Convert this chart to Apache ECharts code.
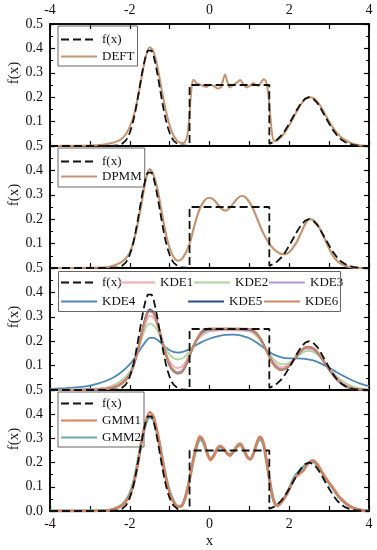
<!DOCTYPE html>
<html><head><meta charset="utf-8">
<script src="https://cdn.jsdelivr.net/npm/echarts@6/dist/echarts.min.js"></script>
<style>html,body{margin:0;padding:0;background:#fff}#c{width:377px;height:550px}</style>
</head><body><div id="c"></div><script>
// ---------- data (x, f) pairs ----------
const xTicks = [-4, -3, -2, -1, 0, 1, 2, 3, 4];
const yTicks = [0, 0.1, 0.2, 0.3, 0.4, 0.5];

const fTrue = [[-4,0],[-2.6,0],[-2.5,0],[-2.4,0.001],[-2.3,0.002],[-2.2,0.008],[-2.1,0.022],[-2.05,0.035],[-2.0,0.054],[-1.95,0.079],[-1.9,0.111],[-1.85,0.15],[-1.8,0.195],[-1.75,0.242],[-1.7,0.29],[-1.65,0.333],[-1.6,0.369],[-1.55,0.391],[-1.5,0.399],[-1.45,0.391],[-1.4,0.369],[-1.35,0.333],[-1.3,0.29],[-1.25,0.242],[-1.2,0.195],[-1.15,0.15],[-1.1,0.111],[-1.05,0.079],[-1.0,0.054],[-0.95,0.035],[-0.9,0.022],[-0.8,0.008],[-0.7,0.002],[-0.6,0.001],[-0.5,0],[-0.5,0.25],[1.5,0.25],[1.5,0.009],[1.6,0.016],[1.7,0.027],[1.8,0.043],[1.9,0.065],[2.0,0.092],[2.1,0.121],[2.2,0.151],[2.3,0.177],[2.4,0.194],[2.5,0.2],[2.6,0.194],[2.7,0.177],[2.8,0.151],[2.9,0.121],[3.0,0.092],[3.1,0.065],[3.2,0.043],[3.3,0.027],[3.4,0.016],[3.5,0.009],[3.6,0.005],[3.7,0.002],[3.8,0.001],[3.9,0],[4,0]];

const deft = [[-4,0],[-3.4,0.001],[-3,0.002],[-2.7,0.005],[-2.5,0.01],[-2.3,0.02],[-2.2,0.03],[-2.1,0.048],[-2.0,0.078],[-1.9,0.125],[-1.8,0.195],[-1.7,0.285],[-1.6,0.365],[-1.5,0.405],[-1.4,0.385],[-1.3,0.32],[-1.2,0.232],[-1.1,0.15],[-1.0,0.085],[-0.9,0.042],[-0.8,0.02],[-0.7,0.012],[-0.62,0.015],[-0.55,0.05],[-0.5,0.13],[-0.45,0.24],[-0.4,0.272],[-0.33,0.258],[-0.25,0.252],[-0.15,0.246],[-0.08,0.242],[0,0.25],[0.1,0.247],[0.2,0.236],[0.28,0.24],[0.34,0.27],[0.39,0.293],[0.45,0.262],[0.51,0.24],[0.6,0.25],[0.7,0.262],[0.77,0.27],[0.85,0.252],[0.93,0.24],[1.02,0.248],[1.1,0.258],[1.17,0.25],[1.23,0.246],[1.3,0.262],[1.36,0.274],[1.42,0.262],[1.47,0.22],[1.52,0.13],[1.57,0.05],[1.62,0.02],[1.7,0.022],[1.8,0.038],[1.9,0.058],[2.0,0.085],[2.1,0.115],[2.2,0.145],[2.3,0.172],[2.4,0.192],[2.5,0.2],[2.6,0.197],[2.7,0.183],[2.8,0.16],[2.9,0.13],[3.0,0.1],[3.1,0.074],[3.2,0.053],[3.3,0.037],[3.4,0.025],[3.5,0.016],[3.6,0.009],[3.7,0.005],[3.8,0.002],[4,0]];

const dpmm = [[-4,0],[-2.6,0.003],[-2.4,0.01],[-2.2,0.025],[-2.1,0.04],[-2.0,0.062],[-1.9,0.11],[-1.8,0.18],[-1.7,0.27],[-1.6,0.36],[-1.5,0.405],[-1.4,0.38],[-1.3,0.32],[-1.2,0.23],[-1.1,0.145],[-1.0,0.082],[-0.9,0.045],[-0.8,0.03],[-0.7,0.036],[-0.6,0.06],[-0.5,0.1],[-0.4,0.16],[-0.3,0.218],[-0.2,0.258],[-0.1,0.281],[0,0.288],[0.1,0.28],[0.2,0.262],[0.3,0.243],[0.4,0.235],[0.5,0.245],[0.6,0.265],[0.7,0.285],[0.8,0.295],[0.9,0.29],[1.0,0.27],[1.1,0.24],[1.2,0.2],[1.3,0.16],[1.4,0.127],[1.5,0.1],[1.6,0.08],[1.7,0.066],[1.8,0.058],[1.9,0.057],[2.0,0.065],[2.1,0.085],[2.2,0.11],[2.3,0.145],[2.4,0.18],[2.5,0.2],[2.6,0.197],[2.7,0.18],[2.8,0.15],[2.9,0.115],[3.0,0.08],[3.1,0.05],[3.2,0.03],[3.3,0.017],[3.4,0.009],[3.5,0.004],[3.6,0.002],[3.8,0],[4,0]];

const kde1 = [[-4,0],[-3.4,0.001],[-3,0.003],[-2.6,0.008],[-2.4,0.016],[-2.2,0.033],[-2.0,0.067],[-1.9,0.103],[-1.8,0.155],[-1.7,0.218],[-1.6,0.276],[-1.5,0.304],[-1.4,0.296],[-1.3,0.258],[-1.2,0.207],[-1.1,0.157],[-1.0,0.118],[-0.9,0.097],[-0.8,0.09],[-0.7,0.095],[-0.6,0.115],[-0.5,0.148],[-0.4,0.181],[-0.3,0.207],[-0.2,0.226],[-0.1,0.237],[0,0.242],[0.5,0.245],[1.0,0.242],[1.1,0.236],[1.2,0.222],[1.3,0.2],[1.4,0.172],[1.5,0.142],[1.6,0.117],[1.7,0.1],[1.8,0.094],[1.9,0.097],[2.0,0.107],[2.1,0.123],[2.2,0.142],[2.3,0.158],[2.4,0.167],[2.5,0.169],[2.6,0.164],[2.7,0.151],[2.8,0.132],[2.9,0.11],[3.0,0.088],[3.1,0.067],[3.2,0.049],[3.3,0.034],[3.4,0.022],[3.5,0.014],[3.6,0.008],[3.8,0.003],[4,0.001]];

const kde2 = [[-4,0],[-3,0.003],[-2.6,0.01],[-2.4,0.02],[-2.2,0.04],[-2.0,0.075],[-1.9,0.11],[-1.8,0.155],[-1.7,0.21],[-1.6,0.255],[-1.5,0.272],[-1.4,0.265],[-1.3,0.24],[-1.2,0.205],[-1.1,0.17],[-1.0,0.145],[-0.9,0.13],[-0.8,0.125],[-0.7,0.128],[-0.6,0.14],[-0.5,0.16],[-0.4,0.185],[-0.3,0.205],[-0.2,0.222],[-0.1,0.233],[0,0.24],[0.2,0.245],[0.5,0.246],[0.8,0.245],[1.0,0.24],[1.1,0.232],[1.2,0.218],[1.3,0.197],[1.4,0.172],[1.5,0.148],[1.6,0.128],[1.7,0.113],[1.8,0.106],[1.9,0.106],[2.0,0.112],[2.1,0.123],[2.2,0.137],[2.3,0.15],[2.4,0.158],[2.5,0.16],[2.6,0.156],[2.7,0.146],[2.8,0.13],[2.9,0.11],[3.0,0.09],[3.2,0.055],[3.4,0.03],[3.6,0.014],[3.8,0.006],[4,0.002]];

const kde3 = [[-4,0],[-3,0.001],[-2.6,0.005],[-2.4,0.012],[-2.2,0.028],[-2.0,0.064],[-1.9,0.103],[-1.8,0.162],[-1.7,0.232],[-1.6,0.293],[-1.5,0.322],[-1.4,0.311],[-1.3,0.268],[-1.2,0.209],[-1.1,0.15],[-1.0,0.104],[-0.9,0.081],[-0.8,0.073],[-0.7,0.078],[-0.6,0.101],[-0.5,0.14],[-0.4,0.18],[-0.3,0.212],[-0.2,0.234],[-0.1,0.245],[0,0.249],[0.5,0.251],[1.0,0.248],[1.1,0.242],[1.2,0.228],[1.3,0.204],[1.4,0.172],[1.5,0.138],[1.6,0.11],[1.7,0.092],[1.8,0.086],[1.9,0.09],[2.0,0.101],[2.1,0.12],[2.2,0.142],[2.3,0.16],[2.4,0.171],[2.5,0.173],[2.6,0.168],[2.7,0.154],[2.8,0.133],[2.9,0.109],[3.0,0.085],[3.1,0.063],[3.2,0.044],[3.3,0.029],[3.4,0.018],[3.5,0.011],[3.6,0.006],[3.8,0.002],[4,0]];

const kde4 = [[-4,0.004],[-3.6,0.008],[-3.2,0.013],[-3.0,0.018],[-2.8,0.026],[-2.6,0.037],[-2.4,0.052],[-2.2,0.075],[-2.0,0.105],[-1.9,0.126],[-1.8,0.15],[-1.7,0.175],[-1.6,0.198],[-1.5,0.214],[-1.4,0.214],[-1.3,0.205],[-1.2,0.19],[-1.1,0.175],[-1.0,0.163],[-0.9,0.156],[-0.8,0.153],[-0.7,0.155],[-0.6,0.16],[-0.5,0.168],[-0.4,0.178],[-0.2,0.196],[0,0.21],[0.2,0.22],[0.4,0.226],[0.6,0.227],[0.8,0.223],[1.0,0.212],[1.2,0.193],[1.4,0.168],[1.5,0.156],[1.6,0.146],[1.8,0.134],[2.0,0.13],[2.2,0.13],[2.4,0.128],[2.6,0.121],[2.8,0.108],[3.0,0.091],[3.2,0.072],[3.4,0.054],[3.6,0.038],[3.8,0.025],[4,0.016]];

const kde5 = [[-4,0],[-3,0.001],[-2.6,0.004],[-2.4,0.01],[-2.2,0.026],[-2.0,0.062],[-1.9,0.102],[-1.8,0.163],[-1.7,0.235],[-1.6,0.3],[-1.5,0.33],[-1.4,0.318],[-1.3,0.272],[-1.2,0.21],[-1.1,0.148],[-1.0,0.1],[-0.9,0.076],[-0.8,0.067],[-0.7,0.072],[-0.6,0.097],[-0.5,0.138],[-0.4,0.18],[-0.3,0.214],[-0.2,0.236],[-0.1,0.246],[0,0.249],[0.5,0.25],[1.0,0.248],[1.1,0.243],[1.2,0.229],[1.3,0.205],[1.4,0.172],[1.5,0.137],[1.6,0.107],[1.7,0.089],[1.8,0.082],[1.9,0.086],[2.0,0.098],[2.1,0.118],[2.2,0.142],[2.3,0.162],[2.4,0.175],[2.5,0.177],[2.6,0.171],[2.7,0.156],[2.8,0.133],[2.9,0.108],[3.0,0.083],[3.1,0.06],[3.2,0.042],[3.3,0.027],[3.4,0.016],[3.5,0.009],[3.6,0.005],[3.8,0.001],[4,0]];

const kde6 = [[-4,0],[-3,0.001],[-2.6,0.004],[-2.4,0.01],[-2.2,0.025],[-2.0,0.06],[-1.9,0.1],[-1.8,0.16],[-1.7,0.23],[-1.6,0.295],[-1.5,0.325],[-1.4,0.315],[-1.3,0.27],[-1.2,0.21],[-1.1,0.15],[-1.0,0.105],[-0.9,0.08],[-0.8,0.07],[-0.7,0.075],[-0.6,0.1],[-0.5,0.14],[-0.4,0.18],[-0.3,0.215],[-0.2,0.24],[-0.1,0.25],[0,0.252],[0.5,0.252],[1.0,0.25],[1.1,0.245],[1.2,0.23],[1.3,0.205],[1.4,0.17],[1.5,0.135],[1.6,0.105],[1.7,0.088],[1.8,0.083],[1.9,0.088],[2.0,0.1],[2.1,0.12],[2.2,0.145],[2.3,0.163],[2.4,0.175],[2.5,0.177],[2.6,0.172],[2.7,0.158],[2.8,0.135],[2.9,0.11],[3.0,0.085],[3.1,0.062],[3.2,0.043],[3.3,0.028],[3.4,0.017],[3.5,0.01],[3.6,0.005],[3.8,0.002],[4,0]];

const gmm1 = [[-4,0],[-3,0],[-2.6,0.002],[-2.4,0.008],[-2.2,0.022],[-2.1,0.038],[-2.0,0.062],[-1.9,0.11],[-1.8,0.19],[-1.7,0.29],[-1.6,0.37],[-1.5,0.408],[-1.4,0.39],[-1.3,0.32],[-1.2,0.23],[-1.1,0.14],[-1.0,0.075],[-0.9,0.035],[-0.8,0.018],[-0.7,0.02],[-0.6,0.06],[-0.5,0.13],[-0.4,0.22],[-0.3,0.29],[-0.24,0.308],[-0.15,0.29],[-0.05,0.235],[0.02,0.21],[0.1,0.225],[0.2,0.26],[0.27,0.27],[0.35,0.26],[0.45,0.235],[0.52,0.228],[0.6,0.245],[0.7,0.272],[0.77,0.279],[0.85,0.26],[0.95,0.222],[1.02,0.213],[1.1,0.235],[1.2,0.29],[1.27,0.307],[1.35,0.285],[1.42,0.22],[1.5,0.135],[1.58,0.06],[1.65,0.025],[1.72,0.022],[1.8,0.035],[1.9,0.058],[2.0,0.088],[2.1,0.125],[2.17,0.142],[2.25,0.152],[2.35,0.165],[2.45,0.19],[2.55,0.208],[2.6,0.21],[2.7,0.195],[2.8,0.168],[2.9,0.14],[3.0,0.118],[3.1,0.095],[3.2,0.07],[3.3,0.05],[3.4,0.035],[3.5,0.022],[3.6,0.014],[3.7,0.008],[3.8,0.004],[3.9,0.001],[4,0]];

const gmm2 = [[-4,0],[-2.6,0.002],[-2.4,0.008],[-2.2,0.024],[-2.1,0.042],[-2.0,0.07],[-1.9,0.12],[-1.8,0.2],[-1.7,0.29],[-1.6,0.36],[-1.5,0.388],[-1.4,0.375],[-1.3,0.315],[-1.2,0.23],[-1.1,0.145],[-1.0,0.08],[-0.9,0.04],[-0.8,0.02],[-0.7,0.022],[-0.6,0.06],[-0.5,0.13],[-0.4,0.215],[-0.3,0.28],[-0.24,0.298],[-0.15,0.283],[-0.05,0.235],[0.02,0.215],[0.1,0.228],[0.2,0.258],[0.27,0.266],[0.35,0.257],[0.45,0.238],[0.52,0.232],[0.6,0.246],[0.7,0.268],[0.77,0.273],[0.85,0.256],[0.95,0.223],[1.02,0.216],[1.1,0.236],[1.2,0.285],[1.27,0.298],[1.35,0.278],[1.42,0.215],[1.5,0.135],[1.58,0.062],[1.65,0.028],[1.72,0.024],[1.8,0.036],[1.9,0.06],[2.0,0.092],[2.1,0.13],[2.2,0.155],[2.3,0.172],[2.4,0.19],[2.5,0.2],[2.6,0.203],[2.7,0.19],[2.8,0.165],[2.9,0.138],[3.0,0.115],[3.1,0.092],[3.2,0.068],[3.3,0.049],[3.4,0.034],[3.5,0.022],[3.6,0.013],[3.7,0.007],[3.8,0.003],[4,0]];

// ---------- layout / style ----------
const FONT = '"Liberation Serif", "Times New Roman", serif';
const tops = [24, 146, 268, 390];
const H = 122;
const C = {
  f: '#111111', DEFT: '#C4946E', DPMM: '#C49572',
  KDE1: '#F2A9B8', KDE2: '#A9D69A', KDE3: '#B393E0', KDE4: '#4F86B8', KDE5: '#2C4A8C', KDE6: '#CC8A5E',
  GMM1: '#DB7F5C', GMM2: '#66AEA6'
};

const chart = echarts.init(document.getElementById('c'), null, {renderer: 'canvas'});

const grids = tops.map(t => ({left: 50, right: 8, top: t, height: H, show: true,
  borderColor: '#000', borderWidth: 1.5, backgroundColor: 'transparent'}));

const tickStyle = {color: '#000', width: 1.2};
const lblStyle = {color: '#111', fontFamily: FONT, fontSize: 14};
const xFmt = v => (Math.abs(v) % 2 === 0 ? String(v) : '');

const xAxes = tops.map((t, i) => ({
  type: 'value', gridIndex: i, position: 'bottom', min: xTicks[0], max: xTicks[xTicks.length - 1], interval: 1,
  axisLine: {show: true, onZero: false, lineStyle: {color: '#000', width: 1.5}},
  axisTick: {show: true, inside: true, length: 5, lineStyle: tickStyle},
  axisLabel: Object.assign({show: i === 3, margin: 6, formatter: xFmt}, lblStyle),
  splitLine: {show: false},
  name: i === 3 ? 'x' : '', nameLocation: 'middle', nameGap: 23,
  nameTextStyle: {color: '#111', fontFamily: FONT, fontSize: 15}
}));
xAxes.push({
  type: 'value', gridIndex: 0, position: 'top', min: xTicks[0], max: xTicks[xTicks.length - 1], interval: 1,
  axisLine: {show: true, onZero: false, lineStyle: {color: '#000', width: 1.5}},
  axisTick: {show: true, inside: true, length: 5, lineStyle: tickStyle},
  axisLabel: Object.assign({show: true, margin: 7, formatter: xFmt}, lblStyle),
  splitLine: {show: false}
});

const yAxes = [];
tops.forEach((t, i) => {
  yAxes.push({
    type: 'value', gridIndex: i, position: 'left', min: yTicks[0], max: yTicks[yTicks.length - 1], interval: 0.1,
    axisLine: {show: true, onZero: false, lineStyle: {color: '#000', width: 1.5}},
    axisTick: {show: true, inside: true, length: 5, lineStyle: tickStyle},
    minorTick: {show: true, splitNumber: 2, length: 3, lineStyle: {color: '#000', width: 1}},
    axisLabel: Object.assign({margin: 7, formatter: v => (i < 3 && v < 0.001 ? '' : v.toFixed(1))}, lblStyle),
    splitLine: {show: false}, minorSplitLine: {show: false}
  });
});
tops.forEach((t, i) => {
  yAxes.push({
    type: 'value', gridIndex: i, position: 'right', min: yTicks[0], max: yTicks[yTicks.length - 1], interval: 0.1,
    axisLine: {show: true, onZero: false, lineStyle: {color: '#000', width: 1.5}},
    axisTick: {show: true, inside: true, length: 5, lineStyle: tickStyle},
    minorTick: {show: true, splitNumber: 2, length: 3, lineStyle: {color: '#000', width: 1}},
    axisLabel: {show: false}, splitLine: {show: false}, minorSplitLine: {show: false}
  });
});

function line(name, data, gi, color, width, z, extra) {
  return Object.assign({
    type: 'line', name, data, xAxisIndex: gi, yAxisIndex: gi, symbol: 'none', smooth: 0.3,
    lineStyle: {color, width}, itemStyle: {color}, z, emphasis: {disabled: true}, animation: false
  }, extra || {});
}
function fLine(gi) {
  return line('f(x)', fTrue, gi, C.f, 1.8, 10, {smooth: false, lineStyle: {color: C.f, width: 1.8, type: [8, 4]}});
}

const series = [
  line('DEFT', deft, 0, C.DEFT, 2, 3), fLine(0),
  line('DPMM', dpmm, 1, C.DPMM, 2.2, 3), fLine(1),
  line('KDE4', kde4, 2, C.KDE4, 1.8, 3),
  line('KDE2', kde2, 2, C.KDE2, 1.8, 3),
  line('KDE1', kde1, 2, C.KDE1, 1.8, 3),
  line('KDE3', kde3, 2, C.KDE3, 1.8, 3),
  line('KDE5', kde5, 2, C.KDE5, 1.8, 3),
  line('KDE6', kde6, 2, C.KDE6, 2, 3),
  fLine(2),
  line('GMM2', gmm2, 3, C.GMM2, 3, 3),
  line('GMM1', gmm1, 3, C.GMM1, 2.4, 4),
  fLine(3)
];

const legBase = {
  itemWidth: 36, itemHeight: 14, selectedMode: false,
  textStyle: {fontFamily: FONT, fontSize: 13, color: '#111'},
  itemStyle: {opacity: 0}, inactiveColor: '#111'
};
const legends = [
  Object.assign({}, legBase, {data: ['f(x)', 'DEFT'], orient: 'vertical', left: 58, top: 26, itemGap: 4,
    padding: [7, 3, 3, 2], borderColor: '#666', borderWidth: 1}),
  Object.assign({}, legBase, {data: ['f(x)', 'DPMM'], orient: 'vertical', left: 58, top: 148, itemGap: 2,
    padding: [7, 3, 4, 2], borderColor: '#666', borderWidth: 1}),
  Object.assign({}, legBase, {data: ['f(x)', 'GMM1', 'GMM2'], orient: 'vertical', left: 58, top: 392, itemGap: 4,
    padding: [5, 3, 3, 2], borderColor: '#666', borderWidth: 1})
];
const kdeLegendSlots = [['f(x)', 60, 276], ['KDE1', 118, 276], ['KDE2', 193, 276], ['KDE3', 268, 276],
  ['KDE4', 60, 295], ['KDE5', 187, 295], ['KDE6', 263, 295]];
kdeLegendSlots.forEach(([n, l, t]) => {
  legends.push(Object.assign({}, legBase, {data: [n], orient: 'horizontal', left: l, top: t, padding: 0}));
});

const graphic = tops.map(t => ({
  type: 'text', x: 14, y: t + H / 2 - 12, rotation: Math.PI / 2,
  style: {text: 'f(x)', fill: '#111', font: '15px "Liberation Serif", serif', align: 'center', verticalAlign: 'middle'}
}));
graphic.push({type: 'rect', shape: {x: 58.5, y: 271.5, width: 282, height: 40},
  style: {fill: 'none', stroke: '#666', lineWidth: 1}, z: 100});

chart.setOption({
  backgroundColor: '#fff',
  animation: false,
  grid: grids, xAxis: xAxes, yAxis: yAxes,
  legend: legends, series, graphic
});
</script></body></html>
